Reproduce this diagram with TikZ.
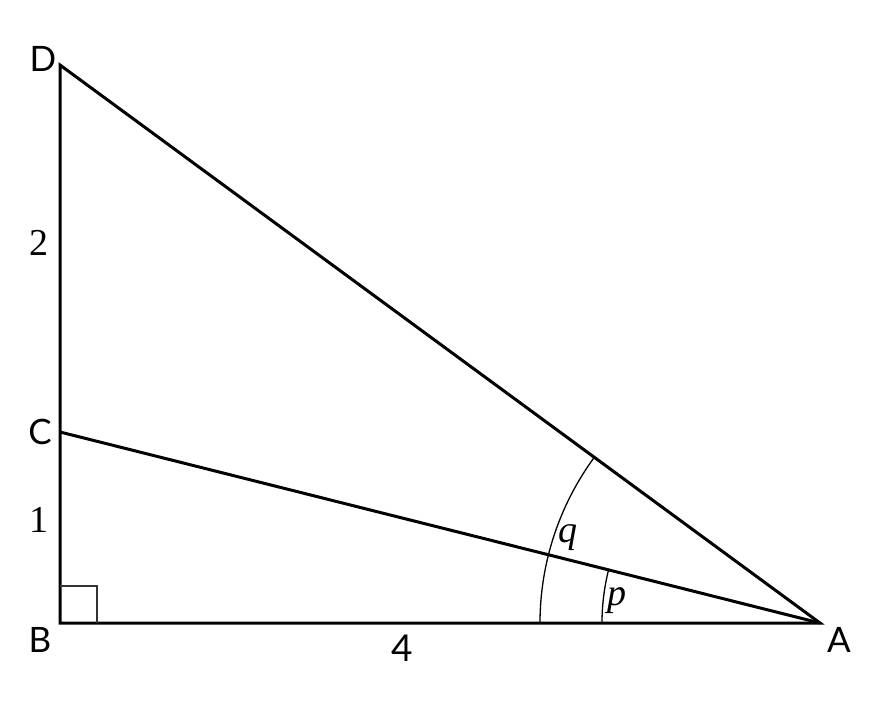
\documentclass[tikz,border=0pt]{standalone}
\usepackage{fontspec}
\setmainfont{Liberation Serif}
\newfontfamily\gillfont{Lato}
\begin{document}
\begin{tikzpicture}[x=0.5pt,y=-0.5pt,
  side/.style={line width=1.5pt},
  angarc/.style={line width=0.65pt},
  ptlabel/.style={font=\gillfont\fontsize{17.5}{20}\selectfont},
  numlabel/.style={font=\fontsize{19}{22}\selectfont}]
  \useasboundingbox (0,0) rectangle (896,703);

  % Define points
  \coordinate (B) at (60,623);
  \coordinate (A) at (820,623);
  \coordinate (C) at (60,432);
  \coordinate (D) at (60,65);

  % Define labels
  \node[ptlabel] (lD) at (43,59) {D};
  \node[ptlabel] (lC) at (40,432) {C};
  \node[ptlabel] (lB) at (40,640) {B};
  \node[ptlabel] (lA) at (839,640) {A};
  \node[numlabel] (l2) at (39,243) {2};
  \node[numlabel] (l1) at (39,520) {1};
  \node[ptlabel, font=\gillfont\fontsize{18.5}{21}\selectfont] (l4) at (402,648) {4};
  \node[numlabel] (lq) at (568,538) {\textit{q}};
  \node[numlabel] (lp) at (617,601) {\textit{p}};

  % Draw edges
  \draw[side] (D) -- (B) -- (A) -- cycle;
  \draw[side] (C) -- (A);

  % Right angle and angle arcs
  \draw[line width=0.6pt, black!80] (B) ++(0,-37) -| ++(37,37);
  \draw[angarc] (A) ++(180:280) arc (180:216.29:280);
  \draw[angarc] (A) ++(180:218) arc (180:194.11:218);
\end{tikzpicture}
\end{document}
